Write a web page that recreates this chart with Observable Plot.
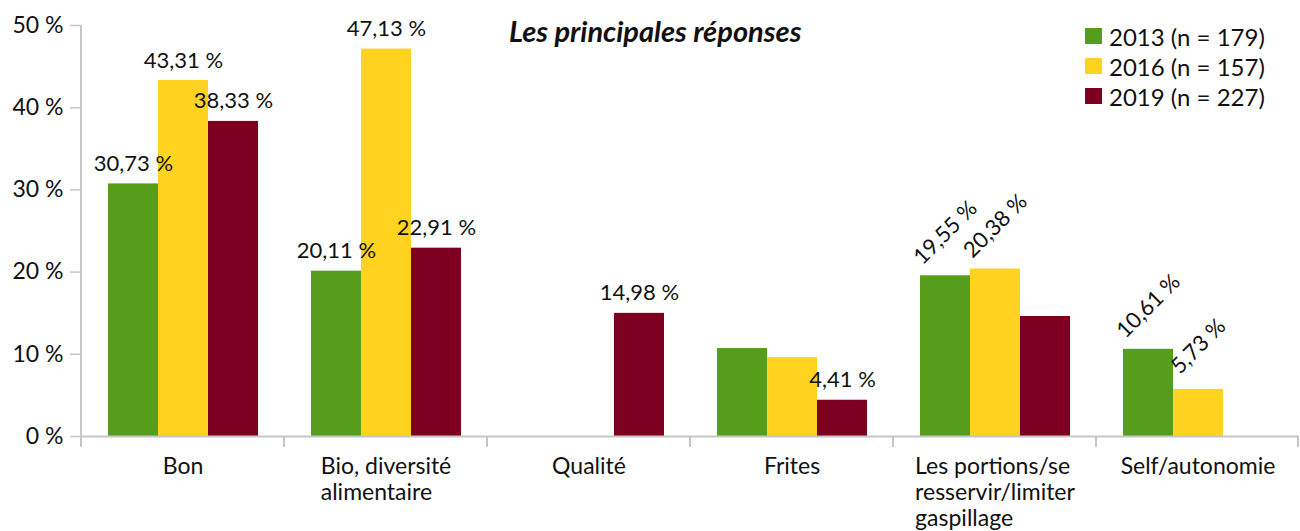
<!DOCTYPE html>
<html>
<head>
<meta charset="utf-8">
<script src="https://cdn.jsdelivr.net/npm/d3@7"></script>
<script src="https://cdn.jsdelivr.net/npm/@observablehq/plot@0.6"></script>
<style>
  html, body { margin: 0; padding: 0; background: #fff; }
  #wrap { position: relative; width: 1300px; height: 531px; font-family: Lato, sans-serif; color: #111; }
  #title { position: absolute; left: 509px; top: 13px; font-size: 29px; font-weight: bold; font-style: italic; white-space: nowrap; }
  #legend { position: absolute; left: 1085px; top: 21px; font-size: 24px; }
  #legend .row { display: flex; align-items: center; height: 30px; white-space: nowrap; }
  #legend .sw { width: 17px; height: 16px; margin-right: 7px; }
</style>
</head>
<body>
<div id="wrap">
  <div id="chart"></div>
  <div id="title"></div>
  <div id="legend"></div>
</div>
<script>
const titleText = "Les principales réponses";
const categories = ["Bon", "Bio, diversité\nalimentaire", "Qualité", "Frites", "Les portions/se\nresservir/limiter\ngaspillage", "Self/autonomie"];
const series = ["2013 (n = 179)", "2016 (n = 157)", "2019 (n = 227)"];
const colors = ["#579d1c", "#ffd320", "#7e0021"];
const values2013 = [30.73, 20.11, null, 10.7, 19.55, 10.61];
const values2016 = [43.31, 47.13, null, 9.6, 20.38, 5.73];
const values2019 = [38.33, 22.91, 14.98, 4.41, 14.6, null];
const labeled2013 = [true, true, false, false, true, true];
const labeled2016 = [true, true, false, false, true, true];
const labeled2019 = [true, true, true, true, false, false];
const rotatedCategories = ["Les portions/se\nresservir/limiter\ngaspillage", "Self/autonomie"];
const yTicks = [0, 10, 20, 30, 40, 50];

const allValues = [values2013, values2016, values2019];
const allLabeled = [labeled2013, labeled2016, labeled2019];
const rows = [];
series.forEach((s, si) => categories.forEach((c, ci) => {
  rows.push({category: c, series: s, value: allValues[si][ci], labeled: allLabeled[si][ci]});
}));
const fmt = v => v.toFixed(2).replace(".", ",") + " %";
const labelRows = rows.filter(d => d.labeled && d.value != null);
const flatLabels = labelRows.filter(d => !rotatedCategories.includes(d.category));
const rotLabels = labelRows.filter(d => rotatedCategories.includes(d.category));

const fontFamily = "Lato, sans-serif";
const catFontSize = 23;
const ctx = document.createElement("canvas").getContext("2d");
ctx.font = `${catFontSize}px ${fontFamily}`;
const blockWidth = c => Math.max(...c.split("\n").map(l => ctx.measureText(l).width));

const gray = "#c6c6c6";

const plot = Plot.plot({
  width: 1300,
  height: 531,
  marginLeft: 81,
  marginRight: 1,
  marginTop: 25,
  marginBottom: 95,
  style: {fontFamily, background: "white"},
  fx: {domain: categories, padding: 0, axis: null},
  x: {domain: series, paddingInner: 0, paddingOuter: 0.5, axis: null},
  y: {domain: [0, 50], axis: null},
  color: {domain: series, range: colors},
  marks: [
    Plot.barY(rows, {fx: "category", x: "series", y: "value", fill: "series"}),
    Plot.ruleY([0], {stroke: gray, strokeWidth: 2}),
    Plot.axisY({ticks: yTicks, tickFormat: d => d + " %", label: null, tickSize: 11, tickPadding: 7, stroke: gray, fill: "#111", fontSize: 23, strokeWidth: 1.5}),
    Plot.text(flatLabels, {fx: "category", x: "series", y: "value", text: d => fmt(d.value), dy: -20, fontSize: 22, fill: "#111"}),
    Plot.text(rotLabels, {fx: "category", x: "series", y: "value", text: d => fmt(d.value), dy: -43, rotate: -45, fontSize: 22, fill: "#111"}),
    ...categories.map(c => Plot.text([c], {fx: d => d, text: d => d, frameAnchor: "bottom", textAnchor: "start", lineAnchor: "top", dx: -blockWidth(c) / 2, dy: 19, fontSize: catFontSize, lineHeight: 1.13, fill: "#111"}))
  ]
});

// axis lines using the plot's scales
const svg = d3.select(plot.tagName === "svg" ? plot : plot.querySelector("svg"));
const fxs = plot.scale("fx");
const ys = plot.scale("y");
const g = svg.append("g").attr("stroke", gray).attr("stroke-width", 2);
const y0 = ys.apply(0), y50 = ys.apply(50);
const x0 = fxs.apply(categories[0]);
g.append("line").attr("x1", x0).attr("x2", x0).attr("y1", y50).attr("y2", y0 + 11);
const bounds = categories.map(c => fxs.apply(c)).concat([fxs.apply(categories[categories.length - 1]) + fxs.bandwidth]);
bounds.slice(1).forEach(b => {
  const bx = Math.min(b, 1298);
  g.append("line").attr("x1", bx).attr("x2", bx).attr("y1", y0).attr("y2", y0 + 11);
});

document.getElementById("chart").appendChild(plot);
document.getElementById("title").textContent = titleText;
const legend = d3.select("#legend");
series.forEach((s, i) => {
  const row = legend.append("div").attr("class", "row");
  row.append("div").attr("class", "sw").style("background", colors[i]);
  row.append("span").text(s);
});
</script>
</body>
</html>
